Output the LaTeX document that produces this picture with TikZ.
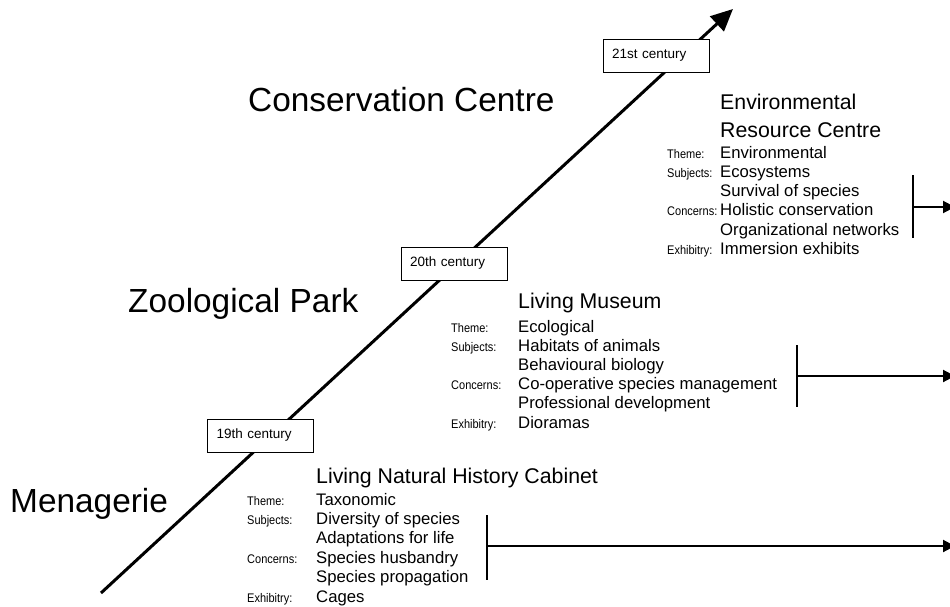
\documentclass[tikz,border=0pt]{standalone}
\usepackage{fontspec}
\setmainfont{Liberation Sans}
\newfontfamily\labfont[FakeStretch=0.88]{Liberation Sans}
\usetikzlibrary{arrows.meta}
\begin{document}
\begin{tikzpicture}[x=1pt,y=-1pt,
  title/.style={font=\fontsize{33.4pt}{40pt}\selectfont, anchor=base west, inner sep=0pt},
  head/.style={font=\fontsize{21.3pt}{26pt}\selectfont, anchor=base west, inner sep=0pt},
  val/.style={font=\fontsize{16.7pt}{20pt}\selectfont, anchor=base west, inner sep=0pt},
  lab/.style={font=\labfont\fontsize{12.5pt}{14pt}\selectfont, anchor=base west, inner sep=0pt},
  cent/.style={draw, fill=white, line width=0.8pt, minimum height=33pt, text width=88pt,
    inner xsep=9pt, inner ysep=0pt, align=left, font=\fontsize{13.5pt}{16pt}\selectfont},
  mainline/.style={line width=3pt, -{Triangle[length=22pt,width=20pt]}},
  bar/.style={line width=2.2pt},
  outarrow/.style={line width=2pt, -{Triangle[length=12pt,width=12pt]}}
]
\useasboundingbox (0,0) rectangle (950,607);

% main timeline
\coordinate (lstart) at (101,593);
\coordinate (ltip) at (733,9);
\draw[mainline] (lstart) -- (ltip);

% century boxes
\node[cent] (c19) at (260.5,435.5) {19th century};
\node[cent] (c20) at (454,263.5) {20th century};
\node[cent] (c21) at (656,55.5) {21st century};

% big titles
\node[title] (t21) at (248,112) {Conservation Centre};
\node[title] (t20) at (128,312) {Zoological Park};
\node[title] (t19) at (10,512) {Menagerie};

% block 21st
\node[head] (h21a) at (720,110) {Environmental};
\node[head] (h21b) at (720,137.5) {Resource Centre};
\node[val] (v21a) at (720,158) {Environmental};
\node[val] (v21b) at (720,177.3) {Ecosystems};
\node[val] (v21c) at (720,196.6) {Survival of species};
\node[val] (v21d) at (720,215.9) {Holistic conservation};
\node[val] (v21e) at (720,235.2) {Organizational networks};
\node[val] (v21f) at (720,254.5) {Immersion exhibits};
\node[lab] (l21a) at (667,158) {Theme:};
\node[lab] (l21b) at (667,177.3) {Subjects:};
\node[lab] (l21d) at (667,215.9) {Concerns:};
\node[lab] (l21f) at (667,254.5) {Exhibitry:};
\coordinate (b21t) at (913,175);
\coordinate (b21b) at (913,238);
\coordinate (b21m) at (913,207);
\coordinate (b21e) at (955,207);
\draw[bar] (b21t) -- (b21b);
\draw[outarrow] (b21m) -- (b21e);

% block 20th
\node[head] (h20) at (518,308) {Living Museum};
\node[val] (v20a) at (518,332) {Ecological};
\node[val] (v20b) at (518,351.2) {Habitats of animals};
\node[val] (v20c) at (518,370.4) {Behavioural biology};
\node[val] (v20d) at (518,389.6) {Co-operative species management};
\node[val] (v20e) at (518,408.8) {Professional development};
\node[val] (v20f) at (518,428) {Dioramas};
\node[lab] (l20a) at (451,332) {Theme:};
\node[lab] (l20b) at (451,351.2) {Subjects:};
\node[lab] (l20d) at (451,389.6) {Concerns:};
\node[lab] (l20f) at (451,428) {Exhibitry:};
\coordinate (b20t) at (797,345);
\coordinate (b20b) at (797,407);
\coordinate (b20m) at (797,376);
\coordinate (b20e) at (955,376);
\draw[bar] (b20t) -- (b20b);
\draw[outarrow] (b20m) -- (b20e);

% block 19th
\node[head] (h19) at (316,483) {Living Natural History Cabinet};
\node[val] (v19a) at (316,505) {Taxonomic};
\node[val] (v19b) at (316,524.4) {Diversity of species};
\node[val] (v19c) at (316,543.8) {Adaptations for life};
\node[val] (v19d) at (316,563.2) {Species husbandry};
\node[val] (v19e) at (316,582.6) {Species propagation};
\node[val] (v19f) at (316,602) {Cages};
\node[lab] (l19a) at (247,505) {Theme:};
\node[lab] (l19b) at (247,524.4) {Subjects:};
\node[lab] (l19d) at (247,563.2) {Concerns:};
\node[lab] (l19f) at (247,602) {Exhibitry:};
\coordinate (b19t) at (487,515);
\coordinate (b19b) at (487,580);
\coordinate (b19m) at (487,546);
\coordinate (b19e) at (955,546);
\draw[bar] (b19t) -- (b19b);
\draw[outarrow] (b19m) -- (b19e);
\end{tikzpicture}
\end{document}
